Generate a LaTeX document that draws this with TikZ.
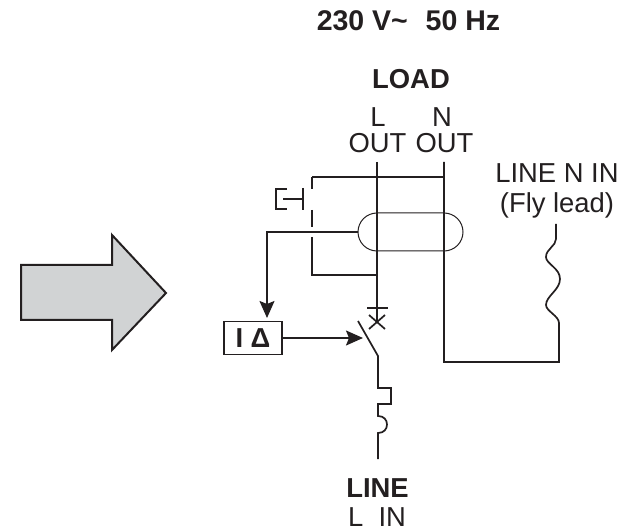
\documentclass[tikz,border=0pt]{standalone}
\usepackage{fontspec}
\setmainfont{Liberation Sans}
\usetikzlibrary{arrows.meta,calc}
\definecolor{ink}{HTML}{231F20}
\definecolor{fillgrey}{HTML}{D1D3D4}
\tikzset{
  wire/.style={draw=ink,line width=1.7pt,line join=miter},
  thin wire/.style={draw=ink,line width=1pt},
  sig/.style={wire,-{Stealth[length=17pt,width=15pt,inset=3pt]}},
  lab/.style={inner sep=0pt,outer sep=0pt,anchor=base,text=ink,font=\fontsize{27.4}{30}\selectfont},
  blab/.style={lab,font=\fontsize{27.4}{30}\selectfont\bfseries},
  deltabox/.style={draw=ink,line width=1.7pt,minimum width=58pt,minimum height=33pt,inner sep=0pt,text=ink,font=\fontsize{27.4}{30}\selectfont\bfseries},
}
\begin{document}
\begin{tikzpicture}[x=1pt,y=-1pt]
\useasboundingbox (0,0) rectangle (641,532);
% texts
\node[blab,font=\fontsize{28.5}{30}\selectfont\bfseries] (freq) at (408.5,31) {230 V\textasciitilde\ \ \hspace{2pt}50 Hz};
\node[blab] (load) at (411,89) {LOAD};
\node[lab] (lL) at (378,127) {L};
\node[lab] (lN) at (442,127) {N};
\node[lab] (outL) at (377.5,153) {OUT};
\node[lab] (outN) at (444.5,153) {OUT};
\node[lab] (flyA) at (557,183) {LINE N IN};
\node[lab] (flyB) at (557,213) {(Fly lead)};
\node[blab] (line) at (377.5,497) {LINE};
\node[lab] (lineIn) at (377,526) {L\ \ IN};
% block arrow
\draw[draw=ink,fill=fillgrey,line width=2pt,line join=miter]
  (21,265) -- (112,265) -- (112,235) -- (166,293) -- (112,350) -- (112,320) -- (21,320) -- cycle;
% coordinates
\coordinate (Ltop) at (377,162);
\coordinate (Ntop) at (444,162);
\coordinate (Lx) at (377,322);
\coordinate (Ltie) at (377,275);
\coordinate (Ntie) at (444,177);
\coordinate (Btop) at (312,177);
\coordinate (Bbot) at (312,275);
\coordinate (Nbot) at (444,362);
\coordinate (Fbot) at (559,362);
\coordinate (Fmid) at (559,323);
\coordinate (Ftop) at (556,224);
\node[deltabox] (rcd) at (253,338) {I Δ};
\coordinate (tip) at (363,338);
\coordinate (swA) at (358,321);
\coordinate (swB) at (378,356);
\coordinate (Lend) at (378,459);
% main wires
\draw[wire] (Ltop) -- (Lx);
\draw[wire] (Ntop) -- (Nbot) -- (Fbot) -- (Fmid)
  .. controls (559,316) and (546,311) .. (546,305)
  .. controls (546,296) and (560,290) .. (560,279)
  .. controls (560,268) and (546,264) .. (546,257)
  .. controls (546,249) and (556,246) .. (556,239) -- (Ftop);
\draw[wire] (Btop) -- (Ntie);
\draw[wire] (Btop) -- (312,189);
\draw[wire] (312,210) -- (312,227);
\draw[wire] (312,237) -- (Bbot) -- (Ltie);
% push button
\draw[wire] (303,188) -- (303,210);
\draw[wire] (283,199) -- (303,199);
\draw[wire] (287,189) -- (276,189) -- (276,209) -- (287,209);
% toroid
\draw[thin wire] (377,213) -- (444,213) arc[start angle=-90,end angle=90,x radius=19,y radius=19] -- (377,251) arc[start angle=90,end angle=270,x radius=19,y radius=19];
\coordinate (Tleft) at (358,232);
\coordinate (corner) at (267,232);
\draw[sig] (Tleft) -- (corner) -- (267,318);
% contact
\draw[wire] (367,308) -- (388,308);
\draw[wire] (369,315) -- (385,329);
\draw[wire] (385,315) -- (369,329);
\draw[sig] (rcd.east) -- (tip);
\draw[wire] (swA) -- (swB) -- (378,388) -- (391,388) -- (391,404) -- (378,404) -- (378,416)
  .. controls (384,416) and (387,420) .. (387,424.5)
  .. controls (387,429) and (384,433) .. (378,433) -- (Lend);
\end{tikzpicture}
\end{document}
